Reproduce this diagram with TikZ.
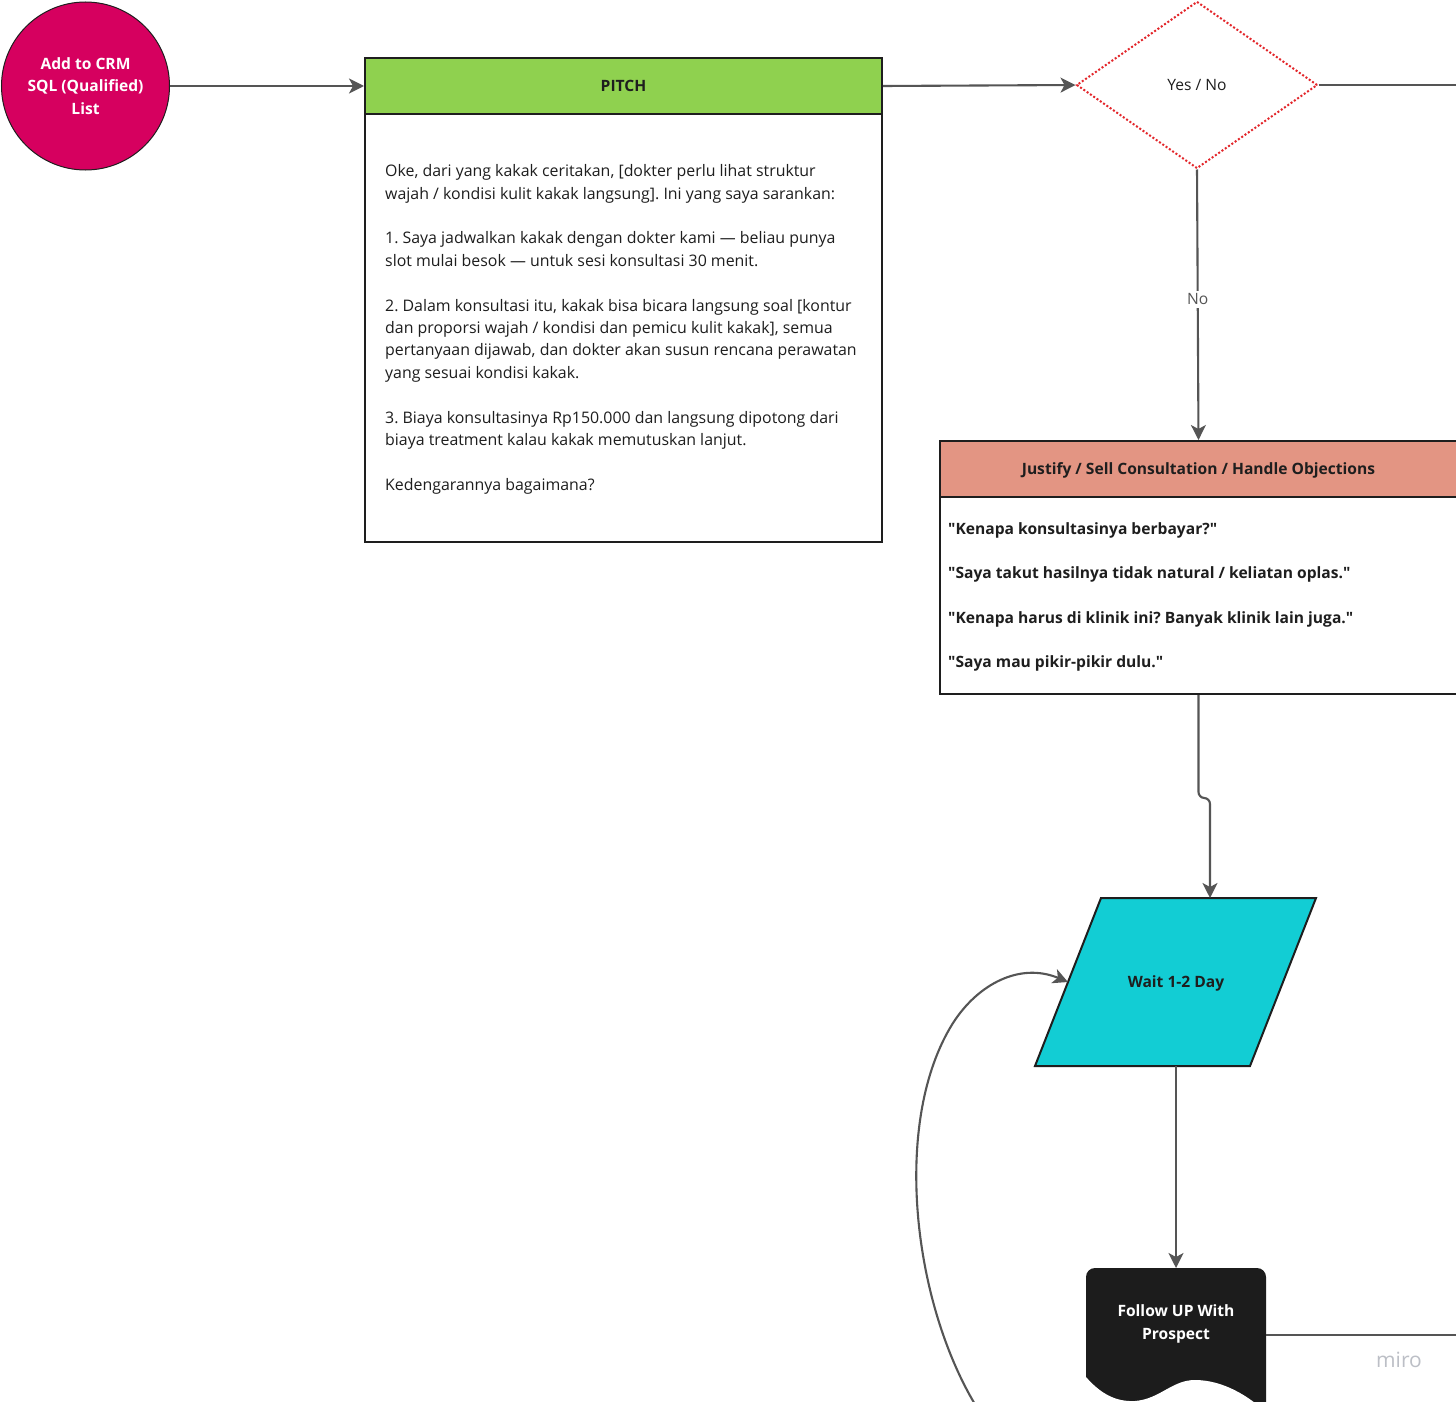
\documentclass[tikz,border=0pt]{standalone}
\usepackage{fontspec}
\setmainfont{Open Sans}[Ligatures=TeXOff]
\usetikzlibrary{arrows.meta,shapes.geometric}
\frenchspacing

\definecolor{crm}{HTML}{D6005F}
\definecolor{pitchgreen}{HTML}{8FD14F}
\definecolor{salmon}{HTML}{E39583}
\definecolor{waitcyan}{HTML}{12CDD4}
\definecolor{docblack}{HTML}{1C1C1C}
\definecolor{wire}{HTML}{555555}
\definecolor{decred}{HTML}{E3262B}
\definecolor{ink}{HTML}{1E1E1E}
\definecolor{logogray}{HTML}{BCBFC6}

\tikzset{
  wire/.style={draw=wire, line width=2.1pt},
  arr/.style={wire, -{Stealth[length=15pt,width=15pt,inset=4pt]}},
  boxline/.style={draw=ink, line width=2pt},
  headfont/.style={font=\fontsize{15.6}{18}\selectfont\bfseries, text height=11pt, text depth=0pt},
  bodyfont/.style={font=\fontsize{15.9}{22.4}\selectfont},
  quotefont/.style={font=\fontsize{15.6}{18}\selectfont\bfseries},
  headbox/.style={rectangle, boxline, minimum width=517pt, minimum height=56pt,
    anchor=north west, inner sep=0pt, headfont, text=ink},
  bodybox/.style={rectangle, boxline, fill=white, minimum width=517pt,
    anchor=north west, inner sep=0pt},
}

\begin{document}
\begin{tikzpicture}[x=1pt,y=-1pt]
\useasboundingbox (0,0) rectangle (1456,1402);
\fill[white] (0,0) rectangle (1456,1402);
\clip (0,0) rectangle (1456,1402);

% start circle
\node[circle, fill=crm, draw=ink, line width=1pt, minimum size=168pt, inner sep=0pt,
      text=white, align=center, font=\fontsize{15.6}{22.5}\selectfont\bfseries]
      (crm) at (85.5,86) {Add to CRM\\SQL (Qualified)\\List};

% pitch card
\node[headbox, fill=pitchgreen] (pitch) at (364,57) {PITCH};
\node[bodybox, minimum height=428pt] (pitchbody) at (364,113) {};
\node[anchor=north west, inner sep=0pt, align=left, bodyfont, text=ink] (pitchtext) at (385,164.5)
 {Oke, dari yang kakak ceritakan, [dokter perlu lihat struktur\\
  wajah / kondisi kulit kakak langsung]. Ini yang saya sarankan:\\[22.4pt]
  1. Saya jadwalkan kakak dengan dokter kami — beliau punya\\
  slot mulai besok — untuk sesi konsultasi 30 menit.\\[22.4pt]
  2. Dalam konsultasi itu, kakak bisa bicara langsung soal [kontur\\
  dan proporsi wajah / kondisi dan pemicu kulit kakak], semua\\
  pertanyaan dijawab, dan dokter akan susun rencana perawatan\\
  yang sesuai kondisi kakak.\\[22.4pt]
  3. Biaya konsultasinya Rp150.000 dan langsung dipotong dari\\
  biaya treatment kalau kakak memutuskan lanjut.\\[22.4pt]
  Kedengarannya bagaimana?};

% decision
\node[diamond, draw=decred, fill=white, line width=2pt, dash pattern=on 2pt off 2pt,
      minimum width=241pt, minimum height=167pt, inner sep=0pt, text=ink,
      text height=11pt, text depth=0pt,
      font=\fontsize{15.6}{18}\selectfont] (yesno) at (1197,85) {Yes / No};

% objections card
\node[headbox, fill=salmon] (just) at (939,440) {Justify / Sell Consultation / Handle Objections};
\node[bodybox, minimum height=197pt] (justbody) at (939,496) {};
\node[anchor=base west, inner sep=0pt, quotefont, text=ink] (q1) at (948,534) {"Kenapa konsultasinya berbayar?"};
\node[anchor=base west, inner sep=0pt, quotefont, text=ink] (q2) at (948,578.5) {"Saya takut hasilnya tidak natural / keliatan oplas."};
\node[anchor=base west, inner sep=0pt, quotefont, text=ink] (q3) at (948,623) {"Kenapa harus di klinik ini? Banyak klinik lain juga."};
\node[anchor=base west, inner sep=0pt, quotefont, text=ink] (q4) at (948,667.5) {"Saya mau pikir-pikir dulu."};

% waiting step (parallelogram)
\draw[boxline, fill=waitcyan] (1101,898) -- (1316,898) -- (1250,1066) -- (1035,1066) -- cycle;
\node[headfont, text=ink] (wait) at (1176,982) {Wait 1-2 Day};
\coordinate (waittop) at (1210,898);
\coordinate (waitbottom) at (1176,1066);
\coordinate (waitleft) at (1068,982);

% follow-up document shape
\fill[docblack, rounded corners=9pt] (1086,1400) -- (1086,1268) -- (1266,1268) -- (1266,1420) -- (1086,1420) -- cycle;
\fill[white] (1086,1377) .. controls (1100,1393) and (1115,1402) .. (1135,1401)
   .. controls (1160,1399) and (1172,1380) .. (1195,1380)
   .. controls (1222,1380) and (1248,1395) .. (1268,1414)
   -- (1268,1425) -- (1084,1425) -- (1084,1377) -- cycle;
\node[align=center, text=white, font=\fontsize{15.6}{22.5}\selectfont\bfseries] (follow) at (1176,1324) {Follow UP With\\Prospect};
\coordinate (followtop) at (1176,1268);
\coordinate (followright) at (1266,1335);

% free ends beyond the right and bottom edges
\coordinate (offA) at (1460,85);
\coordinate (offB) at (1460,1335);
\coordinate (loopstart) at (976,1406);

% connectors
\draw[arr] (crm.east) -- (pitch.west);
\draw[arr] (pitch.east) -- (yesno.west);
\draw[wire] (yesno.east) -- (offA);
\draw[arr] (yesno.south) -- node[pos=0.48, fill=white, text=wire, inner sep=3pt,
      font=\fontsize{15.6}{18}\selectfont] (nolabel) {No} (just.north);
\draw[arr, rounded corners=6pt] (justbody.south) -- ++(0,103) -| (waittop);
\draw[arr] (waitbottom) -- (followtop);
\draw[wire] (followright) -- (offB);
\draw[arr] (loopstart) .. controls (912,1300) and (892,1120) .. (953,1023)
   .. controls (978,984) and (1020,962) .. (waitleft);

% board watermark
\node[text=logogray, font=\fontsize{21}{24}\selectfont] (logo) at (1399,1360) {miro};
\end{tikzpicture}
\end{document}
